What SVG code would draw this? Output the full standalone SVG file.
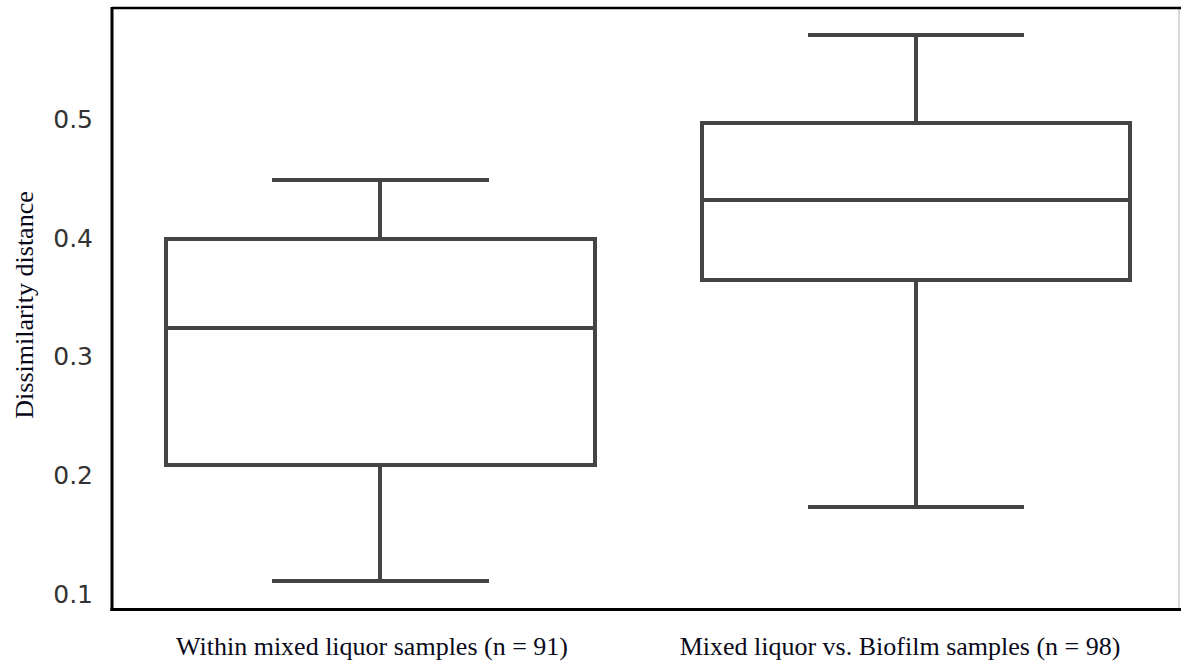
<svg xmlns="http://www.w3.org/2000/svg" width="1181" height="665" viewBox="0 0 1181 665">
<style>
.tick{font-family:"DejaVu Sans",sans-serif;font-size:25px;fill:#333;text-anchor:end}
.lbl{font-family:"Liberation Serif",serif;fill:#0a0a1a}
.box{fill:#fff;stroke:#444;stroke-width:4}
.wh{stroke:#444;stroke-width:4;fill:none}
</style>
<rect width="1181" height="665" fill="#fff"/>
<g id="axes">
<line x1="1179" y1="8" x2="1179" y2="609" stroke="#ccc" stroke-width="1.5"/>
<line x1="112" y1="8" x2="1181" y2="8" stroke="#000" stroke-width="2.5"/>
<line x1="112" y1="7" x2="112" y2="611" stroke="#000" stroke-width="3"/>
<line x1="110.5" y1="609.5" x2="1181" y2="609.5" stroke="#000" stroke-width="3"/>
<text class="tick" x="93" y="128">0.5</text>
<text class="tick" x="93" y="247">0.4</text>
<text class="tick" x="93" y="365">0.3</text>
<text class="tick" x="93" y="484">0.2</text>
<text class="tick" x="93" y="603">0.1</text>
<text class="lbl" font-size="26" text-anchor="middle" transform="translate(33,305) rotate(-90)">Dissimilarity distance</text>
<text class="lbl" font-size="26" x="372" y="655" text-anchor="middle">Within mixed liquor samples (n = 91)</text>
<text class="lbl" font-size="26" x="900" y="655" text-anchor="middle">Mixed liquor vs. Biofilm samples (n = 98)</text>
</g>
<g id="box1">
<line class="wh" x1="380" y1="180" x2="380" y2="239"/>
<line class="wh" x1="380" y1="465" x2="380" y2="581"/>
<line class="wh" x1="272" y1="180" x2="489" y2="180"/>
<line class="wh" x1="272" y1="581" x2="489" y2="581"/>
<rect class="box" x="166" y="239" width="429" height="226"/>
<line class="wh" x1="166" y1="328" x2="595" y2="328"/>
</g>
<g id="box2">
<line class="wh" x1="916" y1="35" x2="916" y2="123"/>
<line class="wh" x1="916" y1="280" x2="916" y2="507"/>
<line class="wh" x1="808" y1="35" x2="1024" y2="35"/>
<line class="wh" x1="808" y1="507" x2="1024" y2="507"/>
<rect class="box" x="702" y="123" width="428" height="157"/>
<line class="wh" x1="702" y1="200" x2="1130" y2="200"/>
</g>
</svg>
